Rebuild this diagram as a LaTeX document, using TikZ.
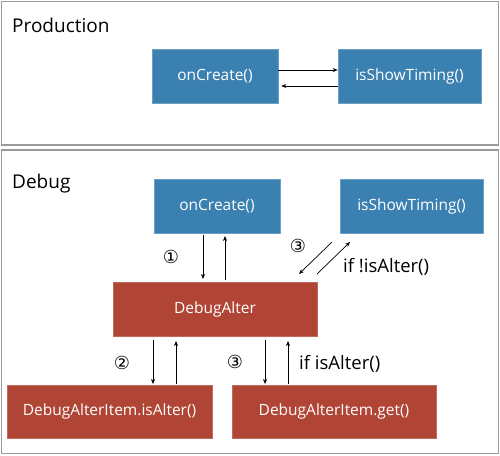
\documentclass[tikz,border=0pt]{standalone}
\usepackage{fontspec}
\setmainfont{Open Sans}
\newfontfamily\circfont{DejaVu Sans}
\usetikzlibrary{arrows.meta}
\definecolor{boxblue}{HTML}{3A80B0}
\definecolor{boxred}{HTML}{B04535}
\definecolor{framegray}{HTML}{9A9A9A}
\begin{document}
\begin{tikzpicture}[x=1pt,y=-1pt,
  frame/.style={draw=framegray,line width=1.2pt},
  bluebox/.style={fill=boxblue,draw=boxblue!75!white,line width=0.6pt,text=white,font=\fontsize{15.5}{18}\selectfont,inner sep=0pt},
  redbox/.style={fill=boxred,draw=boxred!80!white,line width=0.6pt,text=white,font=\fontsize{15.5}{18}\selectfont,inner sep=0pt},
  title/.style={font=\fontsize{19}{22}\selectfont,anchor=base west,inner sep=0pt},
  lbl/.style={font=\fontsize{18.5}{22}\selectfont,inner sep=0pt},
  circ/.style={font=\circfont\fontsize{18}{20}\selectfont,inner sep=0pt},
  arr/.style={-{Stealth[length=5pt,width=4pt]},line width=0.7pt}]
\useasboundingbox (0,0) rectangle (500,455);
% frames
\draw[frame] (1.5,1.5) rectangle (498.5,145);
\draw[frame] (1.5,150) rectangle (498.5,453.5);
\node[title] (tprod) at (12,32) {Production};
\node[title] (tdbg) at (12,188) {Debug};
% production
\node[bluebox,minimum width=126pt,minimum height=54pt] (pc) at (215,76) {onCreate()};
\node[bluebox,minimum width=143pt,minimum height=54pt] (ps) at (409.5,76) {isShowTiming()};
\draw[arr] (pc.east |- 0,70) -- (ps.west |- 0,70);
\draw[arr] (ps.west |- 0,86) -- ([xshift=3pt]pc.east |- 0,86);
% debug
\node[bluebox,minimum width=126pt,minimum height=54pt] (dc) at (217,206) {onCreate()};
\node[bluebox,minimum width=143pt,minimum height=54pt] (ds) at (411.5,206) {isShowTiming()};
\node[redbox,minimum width=204pt,minimum height=54pt] (da) at (215,309) {DebugAlter};
\node[redbox,minimum width=205pt,minimum height=53pt] (di) at (109.5,411.5) {DebugAlterItem.isAlter()};
\node[redbox,minimum width=204pt,minimum height=53pt] (dg) at (334,411.5) {DebugAlterItem.get()};
% onCreate <-> DebugAlter
\draw[arr] (203,235) -- (203,279);
\draw[arr] (225,280) -- (225,236);
\node[circ] (c1) at (171,257) {①};
% DebugAlter <-> isShowTiming
\coordinate (d1s) at (332,242);
\coordinate (d1e) at (299,274);
\coordinate (d2s) at (317,274);
\coordinate (d2e) at (350,242);
\draw[arr] (d1s) -- (d1e);
\draw[arr] (d2s) -- (d2e);
\node[circ] (c3a) at (298,246) {③};
\node[lbl,anchor=west] (l1) at (343,267) {if !isAlter()};
% DebugAlter <-> items
\draw[arr] (153,340) -- (153,384);
\draw[arr] (176,384) -- (176,341);
\node[circ] (c2) at (122,363) {②};
\draw[arr] (265,340) -- (265,384);
\draw[arr] (288,384) -- (288,341);
\node[circ] (c3b) at (235,362) {③};
\node[lbl,anchor=west] (l2) at (299,364) {if isAlter()};
\end{tikzpicture}
\end{document}
